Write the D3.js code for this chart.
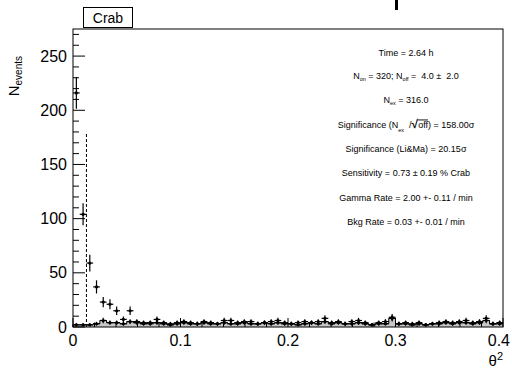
<!DOCTYPE html>
<html><head><meta charset="utf-8">
<script src="https://cdn.jsdelivr.net/npm/d3@7"></script>
<style>body{margin:0;background:#fff}svg{display:block}text{font-family:"Liberation Sans",Arial,sans-serif;white-space:pre}</style>
</head><body><div id="c"></div>
<script>
const binWidth = 0.00625;
const onCounts = [216,104,59,37,23,21,15,7,15,5,4,3,7,4,3,4,5,4,3,5,4,3,6,6,4,5,5,3,4,5,6,4,3,4,5,4,5,8,4,5,3,5,6,4,2,4,5,9,3,4,3,4,2,3,4,5,4,5,6,4,5,8,3,4];
const offCounts = [2,2,2,3,6,4,4,3,5,4,3,4,4,3,2,3,4,3,3,4,3,3,4,3,3,4,3,3,4,3,4,3,3,2,3,4,3,5,3,4,3,3,4,3,2,3,3,8,3,3,2,3,2,3,3,4,3,4,4,3,4,6,3,3];
const cutValue = 0.0125;
const cutHeight = 180;
const xTicks = [0,0.1,0.2,0.3,0.4];
const yTicks = [0,50,100,150,200,250];
const statLines = ["Time = 2.64 h","NON","Nex","SIG","Significance (Li&Ma) = 20.15σ","Sensitivity = 0.73 ± 0.19 % Crab","Gamma Rate = 2.00 +- 0.11 / min","Bkg Rate = 0.03 +- 0.01 / min"];

const W=512,H=370;
const L=73,R=503,T=29,B=327;
const svg=d3.select("#c").append("svg").attr("width",W).attr("height",H);
const x=d3.scaleLinear().domain([0,0.4]).range([L,R]);
const y=d3.scaleLinear().domain([0,275]).range([B,T]);

const bins=onCounts.map((v,i)=>({lo:i*binWidth,hi:(i+1)*binWidth,c:(i+0.5)*binWidth,on:v,off:offCounts[i]}));

// off histogram filled
const area=[];
bins.forEach(b=>{area.push([b.lo,b.off]);area.push([b.hi,b.off]);});
const ar=d3.area().x(d=>x(d[0])).y0(y(0)).y1(d=>y(d[1]));
svg.append("path").datum(area).attr("d",ar).attr("fill","#c8c8c8");
const ln=d3.line().x(d=>x(d[0])).y(d=>y(d[1]));
svg.append("path").datum([[0,0]].concat(area)).attr("d",ln).attr("fill","none").attr("stroke","#000").attr("stroke-width",1);

function drawPoints(key){
  const g=svg.append("g");
  bins.forEach(b=>{
    const v=b[key], e=Math.sqrt(v);
    g.append("line").attr("x1",x(b.lo)).attr("x2",x(b.hi)).attr("y1",y(v)).attr("y2",y(v)).attr("stroke","#000").attr("stroke-width",1.2);
    g.append("line").attr("x1",x(b.c)).attr("x2",x(b.c)).attr("y1",y(v-e)).attr("y2",y(v+e)).attr("stroke","#000").attr("stroke-width",1.2);
    g.append("circle").attr("cx",x(b.c)).attr("cy",y(v)).attr("r",1.6).attr("fill","#000");
  });
}
drawPoints("off");
drawPoints("on");

// cut line
svg.append("line").attr("x1",x(cutValue)).attr("x2",x(cutValue)).attr("y1",y(0)).attr("y2",y(cutHeight))
  .attr("stroke","#000").attr("stroke-width",1).attr("stroke-dasharray","3,2");

// frame
svg.append("rect").attr("x",L).attr("y",T).attr("width",R-L).attr("height",B-T).attr("fill","none").attr("stroke","#000").attr("stroke-width",1);

// y ticks
d3.range(0,271,10).forEach(v=>{
  const major=v%50===0;
  svg.append("line").attr("x1",L).attr("x2",L+(major?12:6)).attr("y1",y(v)).attr("y2",y(v)).attr("stroke","#000").attr("stroke-width",1);
});
yTicks.forEach(v=>{
  svg.append("text").attr("x",67).attr("y",y(v)+5.5).attr("text-anchor","end").attr("font-size",16).attr("fill","#000").text(v);
});
// x ticks
d3.range(0,0.4001,0.02).forEach(v=>{
  const major=Math.abs(v*10-Math.round(v*10))<1e-6;
  svg.append("line").attr("x1",x(v)).attr("x2",x(v)).attr("y1",B).attr("y2",B-(major?9:4.5)).attr("stroke","#000").attr("stroke-width",1);
});
xTicks.forEach((v,i)=>{
  const last=i===xTicks.length-1;
  svg.append("text").attr("x",last?510:x(v)).attr("y",346).attr("text-anchor",last?"end":"middle").attr("font-size",16).attr("fill","#000").text(v===0?"0":v.toString());
});

// axis titles
const xt=svg.append("text").attr("x",503).attr("y",366).attr("text-anchor","end").attr("font-size",15);
xt.append("tspan").text("θ");
xt.append("tspan").attr("font-size",11).attr("dy",-6).text("2");
const yt=svg.append("text").attr("transform","translate(19,56) rotate(-90)").attr("text-anchor","end").attr("font-size",15);
yt.append("tspan").text("N");
yt.append("tspan").attr("font-size",10).attr("dy",3).text("events");

// title box
svg.append("rect").attr("x",83.5).attr("y",7.5).attr("width",49).attr("height",20).attr("fill","#fff").attr("stroke","#000");
svg.append("text").attr("x",108).attr("y",23).attr("text-anchor","middle").attr("font-size",14).text("Crab");
// clipped main title fragment (descender visible at top edge)
svg.append("rect").attr("x",395).attr("y",0).attr("width",3).attr("height",10).attr("fill","#000");

// stats
const cx=406, fs=9;
const ys=[52,75,99,124,148,172,197,221];
statLines.forEach((s,i)=>{
  const t=svg.append("text").attr("x",cx).attr("y",ys[i]+3.5).attr("text-anchor","middle").attr("font-size",fs);
  if(s==="NON"){
    t.append("tspan").text("N");t.append("tspan").attr("font-size",5.5).attr("dy",2).text("on");
    t.append("tspan").attr("dy",-2).text(" = 320; N");t.append("tspan").attr("font-size",5.5).attr("dy",2).text("off");
    t.append("tspan").attr("dy",-2).text(" =  4.0 ±  2.0");
  } else if(s==="Nex"){
    t.append("tspan").text("N");t.append("tspan").attr("font-size",5.5).attr("dy",2).text("ex");
    t.append("tspan").attr("dy",-2).text(" = 316.0");
  } else if(s==="SIG"){
    t.append("tspan").text("Significance (N");t.append("tspan").attr("font-size",5.5).attr("dy",4).text("ex");
    t.append("tspan").attr("dy",-4).text("  /");
    t.append("tspan").attr("font-size",12).attr("font-weight","bold").text("√");
    t.append("tspan").attr("text-decoration","overline").text("off");
    t.append("tspan").text(") = 158.00σ");
  } else t.text(s);
});
</script></body></html>
